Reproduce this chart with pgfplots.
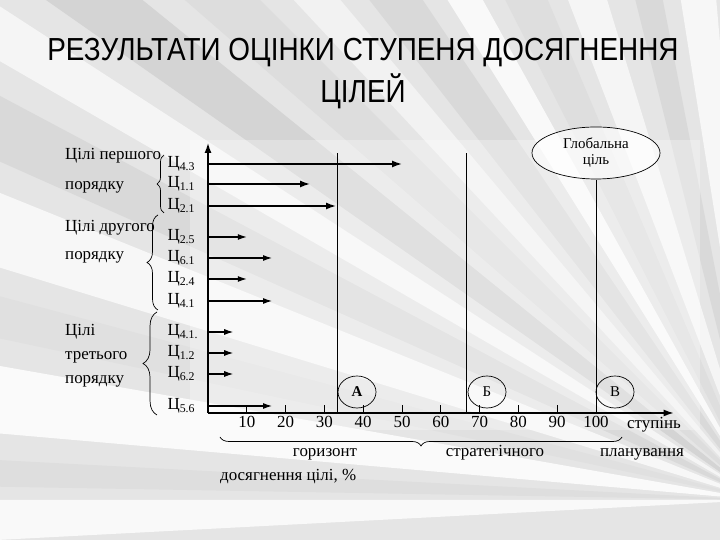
\documentclass[border=0pt]{standalone}
\usepackage{fontspec}
\setmainfont{Liberation Serif}
\setsansfont{Liberation Sans}
\usepackage{pgfplots}
\usepackage{pgfplotstable}
\pgfplotsset{compat=1.18}
\usetikzlibrary{arrows.meta,decorations.pathreplacing}

% goals: row position (px from x-axis), achieved degree, %
\pgfplotstableread{
x y u v
0 249 50   0
0 229 26.3 0
0 207 33   0
}\firstorder
\pgfplotstableread{
x y u v
0 176 10   0
0 155 16.5 0
0 134 10   0
0 112 16.5 0
0 81  6.5  0
0 60  6.5  0
0 39  6.5  0
0 7   16.5 0
}\otherorder

\newcommand{\fs}[1]{\fontsize{#1}{#1}\selectfont}

\begin{document}
\begin{tikzpicture}[x=1bp,y=1bp]
\clip (0,0) rectangle (720,540);
\fill[gray!20] (0,0) rectangle (720,540);
% radiating streaks of the slide background
\begin{scope}[shift={(760,40)}]
\foreach \a/\b/\c in {95/99/gray!6,101/104/gray!30,107/111/gray!8,113/117/gray!26,
  119/122/gray!5,124/128/gray!30,130/133/gray!10,135/139/gray!27,141/145/gray!34,
  147/150/gray!8,152/156/gray!30,158/163/gray!6,165/168/gray!24,170/175/gray!4,
  177/179/gray!26,180/183/gray!5}{
  \fill[\c] (0,0) -- (\a:1500) -- (\b:1500) -- cycle;
}
\end{scope}
\fill[white,opacity=0.3] (190,110) rectangle (700,400);

\begin{axis}[
  at={(208bp,127bp)}, anchor=south west,
  x=3.88bp, y=1bp,
  xmin=0, xmax=120, ymin=0, ymax=270,
  axis lines=left,
  axis line style={line width=1.4pt,-{Latex[length=10bp,width=7bp]}},
  clip=false,
  xtick={10,20,...,100},
  tick align=inside,
  major tick length=8bp,
  xtick style={line width=0.7pt,black},
  ytick={7,39,60,81,112,134,155,176,207,229,249},
  yticklabels={Ц\textsubscript{5.6},Ц\textsubscript{6.2},Ц\textsubscript{1.2},Ц\textsubscript{4.1.},
    Ц\textsubscript{4.1},Ц\textsubscript{2.4},Ц\textsubscript{6.1},Ц\textsubscript{2.5},
    Ц\textsubscript{2.1},Ц\textsubscript{1.1},Ц\textsubscript{4.3}},
  ytick style={draw=none},
  yticklabel style={anchor=west,xshift=-44bp,font=\fs{17}},
  xticklabel style={font=\fs{17}},
  /pgf/number format/assume math mode=true,
]
\addplot[black,line width=1.5pt,-{Latex[length=10bp,width=7bp]},
  quiver={u=\thisrow{u},v=\thisrow{v}}] table[x=x,y=y] {\firstorder};
\addplot[black,line width=1.1pt,-{Latex[length=9bp,width=6bp]},
  quiver={u=\thisrow{u},v=\thisrow{v}}] table[x=x,y=y] {\otherorder};
% planning horizons A, B, V
\addplot[black,line width=0.7pt] coordinates {(33.3,0) (33.3,260)};
\addplot[black,line width=0.7pt] coordinates {(66.7,0) (66.7,260)};
\addplot[black,line width=0.7pt] coordinates {(100,0) (100,233)};
\end{axis}

% title
\node[font=\sffamily\fs{32}] at (363,487) {\scalebox{0.875}[1]{РЕЗУЛЬТАТИ ОЦІНКИ СТУПЕНЯ ДОСЯГНЕННЯ}};
\node[font=\sffamily\fs{32}] at (363,449) {\scalebox{0.875}[1]{ЦІЛЕЙ}};

% global goal
\draw[line width=0.7pt,fill=white,fill opacity=0.6] (596,387) ellipse [x radius=64, y radius=26];
\node[font=\fontsize{15}{16}\selectfont,align=center] at (596,387) {Глобальна\\ціль};

% horizon markers
\draw[line width=0.7pt] (357,148) ellipse [x radius=19, y radius=16];
\node[font=\bfseries\fs{15}] at (357,148) {А};
\draw[line width=0.7pt] (487,148) ellipse [x radius=19, y radius=16];
\node[font=\fs{15}] at (487,148) {Б};
\draw[line width=0.7pt] (615,148) ellipse [x radius=19, y radius=16];
\node[font=\fs{15}] at (615,148) {В};

% group braces and names
\draw[line width=0.7pt,decorate,decoration={brace,amplitude=7}] (164,327) -- (164,385);
\draw[line width=0.7pt,decorate,decoration={brace,amplitude=11}] (158,230) -- (158,325);
\draw[line width=0.7pt,decorate,decoration={brace,amplitude=14}] (157,125) -- (157,228);
\begin{scope}[every node/.style={anchor=base west,font=\fs{17},inner sep=0pt}]
\node at (65,380) {Цілі першого};
\node at (65,350) {порядку};
\node at (65,308) {Цілі другого};
\node at (65,280) {порядку};
\node at (65,204) {Цілі};
\node at (65,180) {третього};
\node at (65,156) {порядку};
\end{scope}

% bottom captions
\node[font=\fs{17},anchor=base west,inner sep=0pt] at (627,111) {ступінь};
\draw[line width=0.7pt,decorate,decoration={brace,mirror,amplitude=9}] (220,103) -- (622,103);
\begin{scope}[every node/.style={anchor=base,font=\fs{17},inner sep=0pt}]
\node at (325,83) {горизонт};
\node at (495,83) {стратегічного};
\node at (642,83) {планування};
\end{scope}
\node[font=\fs{17},anchor=base west,inner sep=0pt] at (220,59) {досягнення цілі, \%};
\end{tikzpicture}
\end{document}
